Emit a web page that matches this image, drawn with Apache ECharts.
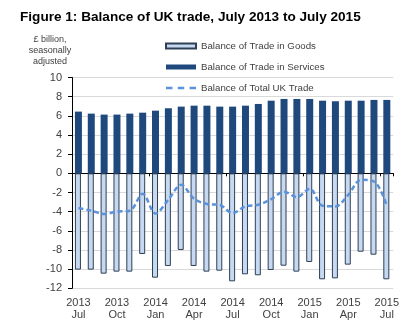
<!DOCTYPE html>
<html>
<head>
<meta charset="utf-8">
<script src="https://cdn.jsdelivr.net/npm/echarts@6/dist/echarts.min.js"></script>
<style>
html,body{margin:0;padding:0;background:#fff;}
#c{width:402px;height:336px;}
</style>
</head>
<body>
<div id="c"></div>
<script>
var categories = ["2013 Jul","2013 Aug","2013 Sep","2013 Oct","2013 Nov","2013 Dec",
  "2014 Jan","2014 Feb","2014 Mar","2014 Apr","2014 May","2014 Jun",
  "2014 Jul","2014 Aug","2014 Sep","2014 Oct","2014 Nov","2014 Dec",
  "2015 Jan","2015 Feb","2015 Mar","2015 Apr","2015 May","2015 Jun","2015 Jul"];
var goods = [-10.05,-10.05,-10.47,-10.26,-10.26,-8.42,-10.89,-9.67,-8.0,-9.67,-10.26,-10.16,
  -11.27,-10.54,-10.64,-10.09,-9.64,-10.26,-9.25,-11.06,-10.96,-9.53,-8.18,-8.49,-11.06];
var services = [6.44,6.23,6.13,6.13,6.23,6.33,6.54,6.79,6.96,7.06,7.06,6.96,
  6.96,7.06,7.24,7.58,7.76,7.76,7.76,7.58,7.52,7.58,7.58,7.66,7.66];
var total = [-3.63,-3.9,-4.25,-4.0,-3.9,-2.14,-4.2,-2.76,-1.2,-2.66,-3.2,-3.3,
  -4.15,-3.45,-3.28,-2.7,-1.93,-2.48,-1.61,-3.39,-3.45,-2.24,-0.68,-0.85,-3.39];
var yTicks = {min: -12, max: 10, interval: 2};

var FONT = "'Liberation Sans', Arial, sans-serif";
var LINE_COLOR = '#5B93DA';
var chart = echarts.init(document.getElementById('c'), null, {renderer: 'canvas'});
chart.setOption({
  animation: false,
  backgroundColor: '#ffffff',
  title: {
    text: 'Figure 1: Balance of UK trade, July 2013 to July 2015',
    left: 15, top: 5,
    textStyle: {fontFamily: FONT, fontSize: 13.6, fontWeight: 'bold', color: '#000'}
  },
  graphic: [{
    type: 'text', x: 50, y: 33.5,
    style: {
      text: '£ billion,\nseasonally\nadjusted',
      fontFamily: FONT, fontSize: 9, lineHeight: 11.2,
      fill: '#404040', align: 'center', verticalAlign: 'top'
    }
  }],
  legend: {
    orient: 'vertical', left: 160, top: 36,
    itemWidth: 30, itemHeight: 5, itemGap: 11,
    textStyle: {fontFamily: FONT, fontSize: 9.7, color: '#404040'},
    data: [
      {name: 'Balance of Trade in Goods', icon: 'rect'},
      {name: 'Balance of Trade in Services', icon: 'rect'},
      {name: 'Balance of Total UK Trade',
       icon: 'path://M0,0h6v2.5h-6zM11,0h6v2.5h-6zM22,0h6v2.5h-6z',
       itemStyle: {color: LINE_COLOR, borderWidth: 0},
       lineStyle: {width: 0}}
    ]
  },
  grid: {left: 72, right: 6, top: 77.5, bottom: 47.7, containLabel: false},
  xAxis: [{
    type: 'category', data: categories, position: 'bottom',
    axisLine: {show: false, onZero: false},
    axisTick: {show: false},
    axisLabel: {
      interval: 2, margin: 9, fontFamily: FONT, fontSize: 11, lineHeight: 12,
      color: '#404040',
      formatter: function (v) { return v.replace(' ', '\n'); }
    }
  }, {
    type: 'category', data: categories, position: 'bottom',
    axisLine: {show: true, onZero: true, lineStyle: {color: '#000', width: 1}},
    axisTick: {show: true, length: 3, inside: false, lineStyle: {color: '#000'}},
    axisLabel: {show: false}
  }],
  yAxis: {
    type: 'value', min: yTicks.min, max: yTicks.max, interval: yTicks.interval,
    axisLine: {show: true, lineStyle: {color: '#000', width: 1}},
    axisTick: {show: true, length: 4, lineStyle: {color: '#000'}},
    axisLabel: {margin: 10, fontFamily: FONT, fontSize: 11, color: '#404040'},
    splitLine: {show: true, lineStyle: {color: '#D9D9D9', width: 1}}
  },
  series: [{
    name: 'Balance of Trade in Goods', type: 'bar', data: goods,
    xAxisIndex: 0, barWidth: 6, barGap: '-100%',
    itemStyle: {color: '#C6D9F1', borderColor: '#2F3F55', borderWidth: 1}
  }, {
    name: 'Balance of Trade in Services', type: 'bar', data: services,
    xAxisIndex: 0, barWidth: 7, barGap: '-100%',
    itemStyle: {color: '#1F497D'}
  }, {
    name: 'Balance of Total UK Trade', type: 'line', data: total,
    xAxisIndex: 0, smooth: 0.35, symbol: 'none', z: 5,
    lineStyle: {color: LINE_COLOR, width: 2.5, type: [5, 3]},
    itemStyle: {color: LINE_COLOR}
  }]
});
</script>
</body>
</html>
